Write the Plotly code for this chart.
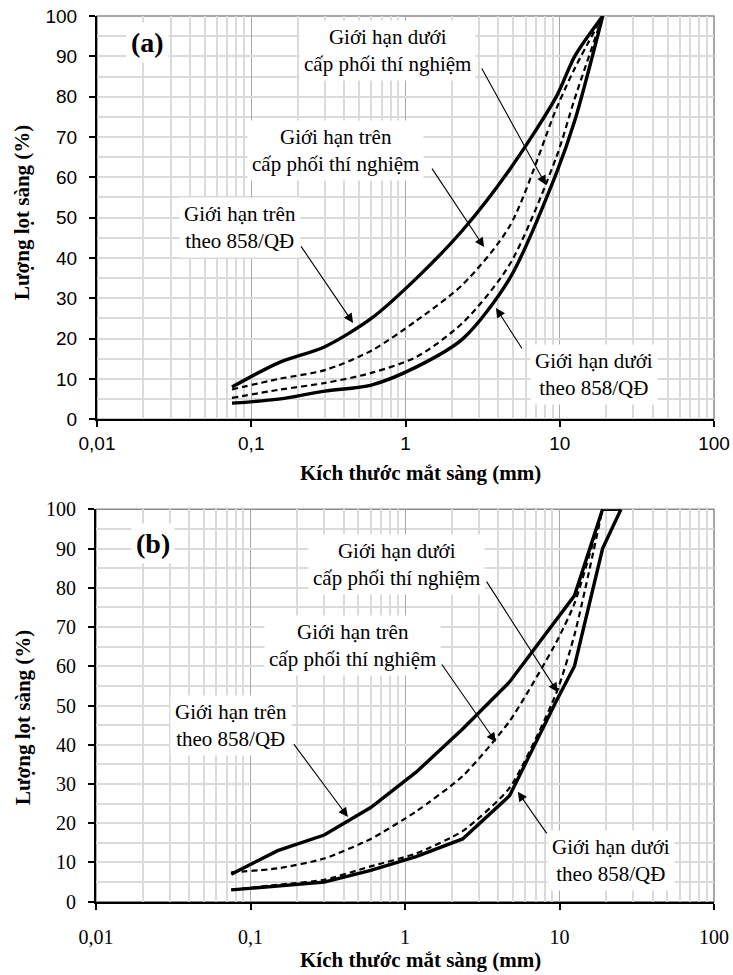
import math
import plotly.graph_objects as go

# ---------------- data ----------------
sieve_a = [0.075, 0.15, 0.3, 0.6, 1.18, 2.36, 4.75, 9.5, 12.5, 19]
a_upper_858 = [8, 14, 18, 25, 35, 47, 62, 80, 90, 100]
a_lower_858 = [4, 5, 7, 8.5, 13, 20, 35, 61, 74, 100]
a_upper_test = [7.4, 10, 12.2, 17, 24.5, 33.5, 48, 77, 87, 100]
a_lower_test = [5.3, 7.3, 9, 11.5, 15.5, 24, 38.5, 65, 79.5, 100]

sieve_b = [0.075, 0.15, 0.3, 0.6, 1.18, 2.36, 4.75, 9.5, 12.5, 19, 25]
b_upper_858 = [7, 13, 17, 24, 33, 44, 56, 72, 78, 100, 100]
b_lower_858 = [3, 4, 5, 8, 11.5, 16, 27, 51, 60, 90, 100]
sieve_b_test = [0.075, 0.15, 0.3, 0.6, 1.18, 2.36, 4.75, 9.5, 12.5, 19]
b_upper_test = [7.5, 8.5, 11, 16, 23, 32, 46, 66, 76, 100]
b_lower_test = [3, 4.3, 5.6, 9, 12.3, 18, 29, 53, 68, 100]

x_tickvals = [0.01, 0.1, 1, 10, 100]
x_ticktext = ["0,01", "0,1", "1", "10", "100"]
y_tickvals = list(range(0, 101, 10))

x_title = "Kích thước mắt sàng (mm)"
y_title = "Lượng lọt sàng (%)"
lbl_lower_test = "Giới hạn dưới<br>cấp phối thí nghiệm"
lbl_upper_test = "Giới hạn trên<br>cấp phối thí nghiệm"
lbl_upper_858 = "Giới hạn trên<br>theo 858/QĐ"
lbl_lower_858 = "Giới hạn dưới<br>theo 858/QĐ"

# ---------------- layout helpers ----------------
W, H = 733, 975
SERIF = "Liberation Serif"
SANS = "Liberation Sans"


def pxx(x):
    return x / W


def pyy(y):
    return 1 - y / H


minor_x = [m * 10 ** k for k in range(-2, 2) for m in range(2, 10)]

fig = go.Figure()

SOLID = dict(color="black", width=3.4)
DASH = dict(color="black", width=2.2, dash="6px,4px")

# panel (a)
fig.add_trace(go.Scatter(x=sieve_a, y=a_upper_858, mode="lines",
                         line=dict(**SOLID, shape="spline", smoothing=0.8), xaxis="x", yaxis="y"))
fig.add_trace(go.Scatter(x=sieve_a, y=a_lower_858, mode="lines",
                         line=dict(**SOLID, shape="spline", smoothing=0.8), xaxis="x", yaxis="y"))
fig.add_trace(go.Scatter(x=sieve_a, y=a_upper_test, mode="lines",
                         line=dict(**DASH, shape="spline", smoothing=0.8), xaxis="x", yaxis="y"))
fig.add_trace(go.Scatter(x=sieve_a, y=a_lower_test, mode="lines",
                         line=dict(**DASH, shape="spline", smoothing=0.8), xaxis="x", yaxis="y"))
# panel (b)
fig.add_trace(go.Scatter(x=sieve_b, y=b_upper_858, mode="lines",
                         line=dict(**SOLID), xaxis="x2", yaxis="y2"))
fig.add_trace(go.Scatter(x=sieve_b, y=b_lower_858, mode="lines",
                         line=dict(**SOLID), xaxis="x2", yaxis="y2"))
fig.add_trace(go.Scatter(x=sieve_b_test, y=b_upper_test, mode="lines",
                         line=dict(**DASH, shape="spline", smoothing=0.6), xaxis="x2", yaxis="y2"))
fig.add_trace(go.Scatter(x=sieve_b_test, y=b_lower_test, mode="lines",
                         line=dict(**DASH, shape="spline", smoothing=0.6), xaxis="x2", yaxis="y2"))


def xaxis_cfg(x0, x1, y_anchor, font, standoff):
    return dict(type="log", range=[-2, 2], domain=[pxx(x0), pxx(x1)], anchor=y_anchor,
                automargin=False,
                tickmode="array", tickvals=x_tickvals, ticktext=x_ticktext,
                showgrid=True, gridcolor="#a8a8a8", gridwidth=1,
                minor=dict(tickmode="array", tickvals=minor_x, showgrid=True,
                           gridcolor="#dadada", gridwidth=1.5, ticks=""),
                showline=True, linecolor="black", linewidth=2,
                ticks="outside", ticklen=6, tickwidth=1.5, tickcolor="black",
                tickfont=font, zeroline=False, ticklabelstandoff=standoff)


def yaxis_cfg(y_top, y_bot, x_anchor, font, standoff):
    return dict(range=[0, 100], domain=[pyy(y_bot), pyy(y_top)], anchor=x_anchor,
                automargin=False,
                tickmode="array", tickvals=y_tickvals,
                showgrid=True, gridcolor="#dadada", gridwidth=1.5,
                minor=dict(dtick=5, showgrid=True, gridcolor="#dadada", gridwidth=1.5, ticks=""),
                showline=True, linecolor="black", linewidth=2,
                ticks="outside", ticklen=6, tickwidth=1.5, tickcolor="black",
                tickfont=font, zeroline=False, ticklabelstandoff=standoff)


fig.update_layout(
    width=W, height=H, margin=dict(l=0, r=0, t=0, b=0, pad=0, autoexpand=False),
    paper_bgcolor="white", plot_bgcolor="white", showlegend=False,
    xaxis=xaxis_cfg(97, 714, "y", dict(family=SANS, size=19, color="black"), 0),
    yaxis=yaxis_cfg(16, 419.3, "x", dict(family=SANS, size=19, color="black"), 8),
    xaxis2=xaxis_cfg(96, 714, "y2", dict(family=SERIF, size=20, color="black"), 10),
    yaxis2=yaxis_cfg(509.3, 901.7, "x2", dict(family=SERIF, size=20, color="black"), 8),
)

# grey frame (top / right)
for xr, yr in (("x domain", "y domain"), ("x2 domain", "y2 domain")):
    fig.add_shape(type="rect", xref=xr, yref=yr, x0=0, x1=1, y0=0, y1=1,
                  line=dict(color="#8a8a8a", width=1.5), layer="below")

ann = []
TXT = dict(family=SERIF, size=21, color="black")


def text(x, y, t, font=TXT, bg="white", angle=0, pad=4):
    ann.append(dict(xref="paper", yref="paper", x=pxx(x), y=pyy(y), text=t, showarrow=False,
                    font=font, bgcolor=bg, borderpad=pad, xanchor="center", yanchor="middle",
                    textangle=angle, align="center"))


def arrow(xa, ya, xval, yval, dx, dy):
    ann.append(dict(xref=xa, yref=ya, x=math.log10(xval), y=yval, ax=dx, ay=dy,
                    axref="pixel", ayref="pixel", text="", showarrow=True,
                    arrowhead=2, arrowsize=1.7, arrowwidth=1.1, arrowcolor="black"))


BOLD_X = dict(family=SERIF, size=21, color="black", weight="bold")
BOLD_Y = dict(family=SERIF, size=21, color="black", weight="bold")
LETTER = dict(family=SERIF, size=28, color="black", weight="bold")

# panel (a)
text(147, 43, "(a)", LETTER)
text(387, 50.5, lbl_lower_test)
text(335, 150, lbl_upper_test)
text(240, 227.5, lbl_upper_858)
text(594, 375, lbl_lower_858)
arrow("x", "y", 8.14, 58.1, -65, -118)
arrow("x", "y", 3.23, 42.7, -53, -80)
arrow("x", "y", 0.457, 23.9, -53, -78)
arrow("x", "y", 3.86, 27.6, 27, 42)
text(420, 473, x_title, BOLD_X, bg="rgba(0,0,0,0)", pad=0)
text(22, 213, y_title, BOLD_Y, bg="rgba(0,0,0,0)", angle=-90, pad=0)

# panel (b)
text(153, 543, "(b)", LETTER)
text(396, 564, lbl_lower_test)
text(352, 645, lbl_upper_test)
text(231, 725.5, lbl_upper_858)
text(611, 860, lbl_lower_858)
arrow("x2", "y2", 9.73, 53.4, -72, -112)
arrow("x2", "y2", 3.87, 40.7, -55, -79)
arrow("x2", "y2", 0.427, 21.6, -55, -74)
arrow("x2", "y2", 5.37, 28.0, 30, 43)
text(420, 960, x_title, BOLD_X, bg="rgba(0,0,0,0)", pad=0)
text(23, 718, y_title, BOLD_Y, bg="rgba(0,0,0,0)", angle=-90, pad=0)

fig.update_layout(annotations=ann)
fig.write_html("out.html")
